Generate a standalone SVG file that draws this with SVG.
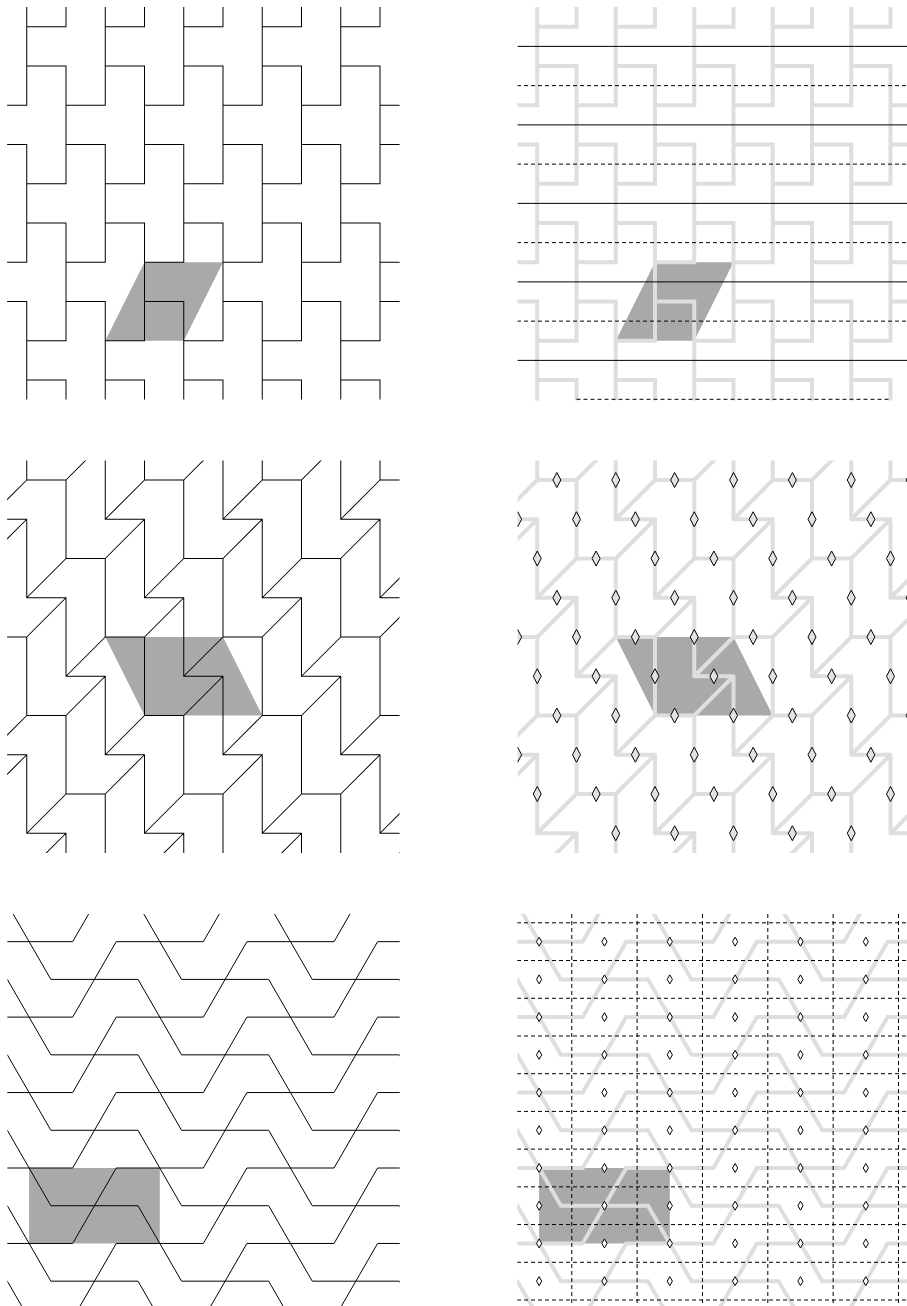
<svg xmlns="http://www.w3.org/2000/svg" xmlns:xlink="http://www.w3.org/1999/xlink" width="907" height="1306" viewBox="0 0 907 1306">
<defs>
<style>
.shade{fill:#a9a9a9;stroke:none}
.blkT{fill:none;stroke:#000;stroke-width:0.0255;stroke-linecap:square}
.gryT{fill:none;stroke:#dedede;stroke-width:0.102;stroke-linecap:square}
.blkZ{fill:none;stroke:#000;stroke-width:0.0255;stroke-linecap:round}
.gryZ{fill:none;stroke:#dedede;stroke-width:0.102;stroke-linecap:round}
.blkH{fill:none;stroke:#000;stroke-width:0.0459;stroke-linejoin:miter}
.gryH{fill:none;stroke:#dedede;stroke-width:0.1837;stroke-linejoin:miter}
.solid{stroke:#000;stroke-width:1;fill:none}
.dash{stroke:#000;stroke-width:1;fill:none;stroke-dasharray:4 3}
.dm4{fill:#e2e2e2;stroke:#000;stroke-width:1}
.dm6{fill:#fff;stroke:#000;stroke-width:1}
</style>
<clipPath id="c1"><rect x="7.1" y="7.1" width="392.5" height="392.5"/></clipPath>
<clipPath id="c2"><rect x="517.6" y="7.1" width="389.4" height="393.4"/></clipPath>
<clipPath id="c3"><rect x="7.1" y="460.4" width="392.5" height="392.5"/></clipPath>
<clipPath id="c4"><rect x="517.6" y="460.4" width="389.4" height="392.5"/></clipPath>
<clipPath id="c5"><rect x="7.33" y="914" width="392.4" height="392"/></clipPath>
<clipPath id="c6"><rect x="517.33" y="914" width="389.67" height="392"/></clipPath>
<path id="tT" d="M0 -0.5V2M0 3V6M0 7V9.5M2 -0.5V2M2 3V6M2 7V9.5M4 -0.5V2M4 3V6M4 7V9.5M6 -0.5V2M6 3V6M6 7V9.5M8 -0.5V2M8 3V6M8 7V9.5
M1 -0.5V0M1 1V4M1 5V8M1 9V9.5M3 -0.5V0M3 1V4M3 5V8M3 9V9.5M5 -0.5V0M5 1V4M5 5V8M5 9V9.5M7 -0.5V0M7 1V4M7 5V8M7 9V9.5M9 -0.5V0M9 1V4M9 5V8M9 9V9.5
M0 0H1M2 0H3M4 0H5M6 0H7M8 0H9M0 1H1M2 1H3M4 1H5M6 1H7M8 1H9
M0 4H1M2 4H3M4 4H5M6 4H7M8 4H9M0 5H1M2 5H3M4 5H5M6 5H7M8 5H9
M0 8H1M2 8H3M4 8H5M6 8H7M8 8H9M0 9H1M2 9H3M4 9H5M6 9H7M8 9H9
M-0.5 2H0M1 2H2M3 2H4M5 2H6M7 2H8M9 2H9.5M-0.5 3H0M1 3H2M3 3H4M5 3H6M7 3H8M9 3H9.5
M-0.5 6H0M1 6H2M3 6H4M5 6H6M7 6H8M9 6H9.5M-0.5 7H0M1 7H2M3 7H4M5 7H6M7 7H8M9 7H9.5"/>
<path id="tZ" d="M0 -0.5V0M0 1V3M0 4V6M0 7V9M3 -0.5V0M3 1V3M3 4V6M3 7V9M6 -0.5V0M6 1V3M6 4V6M6 7V9M9 -0.5V0M9 1V3M9 4V6M9 7V9
M1 0V2M1 3V5M1 6V8M1 9V9.5M4 0V2M4 3V5M4 6V8M4 9V9.5M7 0V2M7 3V5M7 6V8M7 9V9.5
M2 -0.5V1M2 2V4M2 5V7M2 8V9.5M5 -0.5V1M5 2V4M5 5V7M5 8V9.5M8 -0.5V1M8 2V4M8 5V7M8 8V9.5
M0 0H1M3 0H4M6 0H7M9 0H9.5M0 3H1M3 3H4M6 3H7M9 3H9.5M0 6H1M3 6H4M6 6H7M9 6H9.5M0 9H1M3 9H4M6 9H7M9 9H9.5
M-0.5 1H0M2 1H3M5 1H6M8 1H9M-0.5 4H0M2 4H3M5 4H6M8 4H9M-0.5 7H0M2 7H3M5 7H6M8 7H9
M1 2H2M4 2H5M7 2H8M1 5H2M4 5H5M7 5H8M1 8H2M4 8H5M7 8H8
M1 0l1 -1M4 0l1 -1M7 0l1 -1
M-1 1l1 -1M2 1l1 -1M5 1l1 -1M8 1l1 -1
M-1 2l1 -1M2 2l1 -1M5 2l1 -1M8 2l1 -1
M0 3l1 -1M3 3l1 -1M6 3l1 -1M9 3l1 -1
M0 4l1 -1M3 4l1 -1M6 4l1 -1M9 4l1 -1
M1 5l1 -1M4 5l1 -1M7 5l1 -1
M1 6l1 -1M4 6l1 -1M7 6l1 -1
M-1 7l1 -1M2 7l1 -1M5 7l1 -1M8 7l1 -1
M-1 8l1 -1M2 8l1 -1M5 8l1 -1M8 8l1 -1
M0 9l1 -1M3 9l1 -1M6 9l1 -1M9 9l1 -1
M0 10l1 -1M3 10l1 -1M6 10l1 -1M9 10l1 -1"/>
<path id="tH" d="M-4 -8.660H0L2 -5.196H6L8 -1.732H12L14 1.732H18L20 5.196
M-4 -5.196H0L2 -1.732H6L8 1.732H12L14 5.196H18L20 8.660
M-4 -1.732H0L2 1.732H6L8 5.196H12L14 8.660H18L20 12.124
M-4 1.732H0L2 5.196H6L8 8.660H12L14 12.124H18L20 15.588
M-4 5.196H0L2 8.660H6L8 12.124H12L14 15.588H18L20 19.053
M-4 8.660H0L2 12.124H6L8 15.588H12L14 19.053H18L20 22.517
M-4 12.124H0L2 15.588H6L8 19.053H12L14 22.517H18L20 25.981
M-4 15.588H0L2 19.053H6L8 22.517H12L14 25.981H18L20 29.445
M-3 3.464L-1 0H3L5 -3.464H9L11 -6.928H15L17 -10.392H21
M-3 6.928L-1 3.464H3L5 0H9L11 -3.464H15L17 -6.928H21
M-3 10.392L-1 6.928H3L5 3.464H9L11 0H15L17 -3.464H21
M-3 13.856L-1 10.392H3L5 6.928H9L11 3.464H15L17 0H21
M-3 17.321L-1 13.856H3L5 10.392H9L11 6.928H15L17 3.464H21
M-3 20.785L-1 17.321H3L5 13.856H9L11 10.392H15L17 6.928H21
M-3 24.249L-1 20.785H3L5 17.321H9L11 13.856H15L17 10.392H21
M-3 27.713L-1 24.249H3L5 20.785H9L11 17.321H15L17 13.856H21"/>
<path id="d4" d="M0 -7.5L4 0L0 7.5L-4 0Z"/>
<path id="d6" d="M0 -4.5L2.6 0L0 4.5L-2.6 0Z"/>
<g id="rowA" class="dm4"><use href="#d4" x="556.875"/><use href="#d4" x="615.75"/><use href="#d4" x="674.625"/><use href="#d4" x="733.5"/><use href="#d4" x="792.375"/><use href="#d4" x="851.25"/><use href="#d4" x="910.125"/></g>
<g id="rowB" class="dm4"><use href="#d4" x="517.625"/><use href="#d4" x="576.5"/><use href="#d4" x="635.375"/><use href="#d4" x="694.25"/><use href="#d4" x="753.125"/><use href="#d4" x="812"/><use href="#d4" x="870.875"/></g>
<g id="rowC" class="dm4"><use href="#d4" x="537.25"/><use href="#d4" x="596.125"/><use href="#d4" x="655"/><use href="#d4" x="713.875"/><use href="#d4" x="772.75"/><use href="#d4" x="831.625"/><use href="#d4" x="890.5"/></g>
<g id="row6" class="dm6"><use href="#d6" x="539.11"/><use href="#d6" x="604.45"/><use href="#d6" x="669.79"/><use href="#d6" x="735.13"/><use href="#d6" x="800.47"/><use href="#d6" x="865.81"/></g>
</defs>
<rect width="907" height="1306" fill="#fff"/>

<g id="panel1" clip-path="url(#c1)">
<g transform="translate(26.75 26.75) scale(39.25)">
<polygon class="shade" points="3,6 5,6 4,8 2,8"/>
<use href="#tT" class="blkT"/>
</g>
</g>

<g id="panel2" clip-path="url(#c2)">
<g transform="translate(537.25 26.75) scale(39.25)">
<polygon class="shade" points="3,6 5,6 4,8 2,8"/>
<use href="#tT" class="gryT"/>
</g>
<g id="panel2-lines">
<path class="solid" d="M517 46.375H907M517 124.875H907M517 203.375H907M517 281.875H907M517 360.375H907"/>
<path class="dash" d="M517 85.625H907M517 164.125H907M517 242.625H907M517 321.125H907M576.5 399.3H891"/>
</g>
</g>

<g id="panel3" clip-path="url(#c3)">
<g transform="translate(26.75 480) scale(39.25)">
<polygon class="shade" points="2,4 5,4 6,6 3,6"/>
<use href="#tZ" class="blkZ"/>
</g>
</g>

<g id="panel4" clip-path="url(#c4)">
<g transform="translate(537.25 480) scale(39.25)">
<polygon class="shade" points="2,4 5,4 6,6 3,6"/>
<use href="#tZ" class="gryZ"/>
</g>
<g id="panel4-diamonds">
<use href="#rowA" y="480"/>
<use href="#rowB" y="519.25"/>
<use href="#rowC" y="558.5"/>
<use href="#rowA" y="597.75"/>
<use href="#rowB" y="637"/>
<use href="#rowC" y="676.25"/>
<use href="#rowA" y="715.5"/>
<use href="#rowB" y="754.75"/>
<use href="#rowC" y="794"/>
<g class="dm4"><use href="#d4" x="615.75" y="833.25"/><use href="#d4" x="674.625" y="833.25"/><use href="#d4" x="733.5" y="833.25"/><use href="#d4" x="792.375" y="833.25"/><use href="#d4" x="851.25" y="833.25"/></g>
</g>
</g>

<g id="panel5" clip-path="url(#c5)">
<g transform="translate(7.33 941.67) scale(21.78)">
<rect class="shade" x="1" y="10.392" width="6" height="3.464"/>
<use href="#tH" class="blkH"/>
</g>
</g>

<g id="panel6" clip-path="url(#c6)">
<g transform="translate(517.33 941.67) scale(21.78)">
<rect class="shade" x="1" y="10.392" width="6" height="3.464"/>
<use href="#tH" class="gryH"/>
</g>
<g id="panel6-grid">
<path class="dash" d="M571.78 914V1306M637.12 914V1306M702.46 914V1306M767.8 914V1306M833.14 914V1306M898.48 914V1306"/>
<path class="dash" d="M517 922.81H907M517 960.53H907M517 998.25H907M517 1035.97H907M517 1073.69H907M517 1111.41H907M517 1149.13H907M517 1186.85H907M517 1224.57H907M517 1262.29H907M517 1300.01H907"/>
</g>
<g id="panel6-diamonds">
<use href="#row6" y="941.67"/>
<use href="#row6" y="979.39"/>
<use href="#row6" y="1017.11"/>
<use href="#row6" y="1054.83"/>
<use href="#row6" y="1092.55"/>
<use href="#row6" y="1130.27"/>
<use href="#row6" y="1167.99"/>
<use href="#row6" y="1205.71"/>
<use href="#row6" y="1243.43"/>
<use href="#row6" y="1281.15"/>
</g>
</g>
</svg>
